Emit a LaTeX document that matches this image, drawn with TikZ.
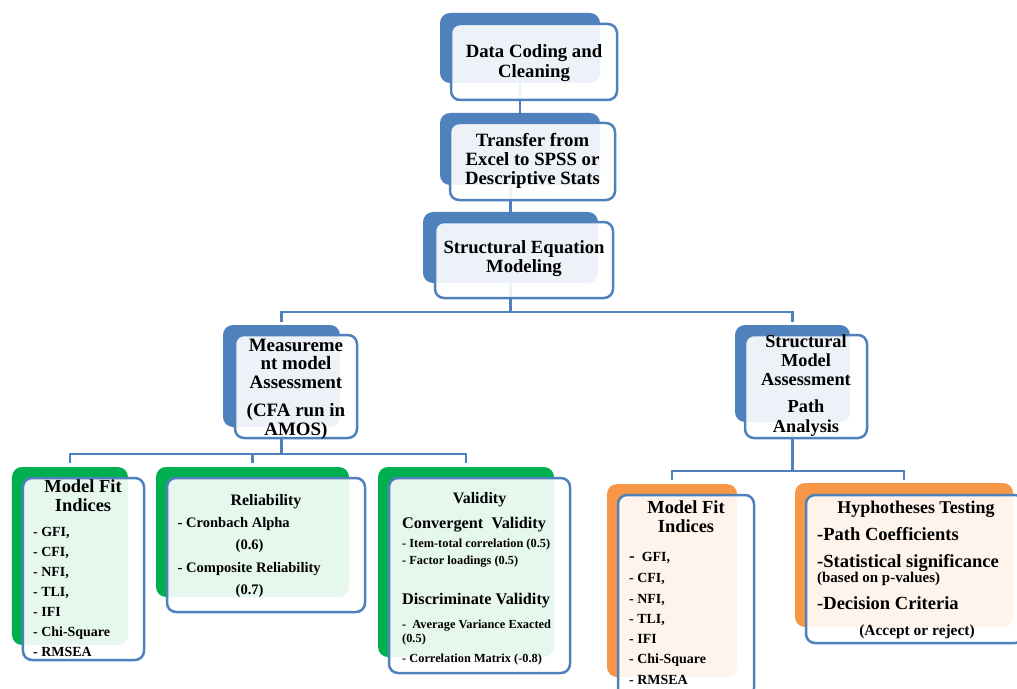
\documentclass[tikz,border=0pt]{standalone}
\usepackage{fontspec}
\setmainfont{Liberation Serif}
\definecolor{accblue}{HTML}{4F81BD}
\definecolor{accgreen}{HTML}{00B050}
\definecolor{accorange}{HTML}{F79646}
\tikzset{
  backbox/.style={draw=none, fill=#1, rounded corners=10bp, inner sep=0pt},
  frontbox/.style={draw=accblue, line width=2.5bp, fill=white, fill opacity=0.9,
                   rounded corners=9bp, inner sep=0pt},
  link/.style={draw=accblue, line width=2.2bp},
  lbl/.style={inner sep=0pt, text=black, font=\bfseries},
}
\newcommand{\fs}[2]{\fontsize{#1}{#2}\selectfont}
\begin{document}
\begin{tikzpicture}[x=1bp,y=-1bp]
\useasboundingbox (0,0) rectangle (1017,689);

% ---------- coloured back panels ----------
\node[backbox=accblue, minimum width=160bp, minimum height=70bp] (b1) at (520,48) {};
\node[backbox=accblue, minimum width=160bp, minimum height=72bp] (b2) at (520,149) {};
\node[backbox=accblue, minimum width=175bp, minimum height=71bp] (b3) at (510.5,247.5) {};
\node[backbox=accblue, minimum width=117bp, minimum height=102bp] (bm) at (281.5,376) {};
\node[backbox=accblue, minimum width=115bp, minimum height=97bp] (bs) at (792.5,373.5) {};
\node[backbox=accgreen, minimum width=116bp, minimum height=178bp] (bfit) at (70,556) {};
\node[backbox=accgreen, minimum width=193bp, minimum height=130bp] (brel) at (252.5,532) {};
\node[backbox=accgreen, minimum width=176bp, minimum height=190bp] (bval) at (466,562) {};
\node[backbox=accorange, minimum width=130bp, minimum height=193bp] (bfit2) at (672,580.5) {};
\node[backbox=accorange, minimum width=218bp, minimum height=144bp] (bhyp) at (904,555) {};

% ---------- connectors ----------
\draw[link] (b1.south) -- (b2.north);
\draw[link] (b2.south -| b3.north) -- (b3.north);
\draw[link] (b3.south) -- ++(0,29) coordinate (j1);
\draw[link, shorten <=3bp, shorten >=3bp] (bm.north) |- (j1) -| (bs.north);
\draw[link] (bm.south) -- ++(0,27) coordinate (j2);
\draw[link, shorten <=4bp] (bfit.north) |- (j2);
\draw[link, shorten <=4bp] (bval.north) |- (j2);
\draw[link, shorten <=4bp] (brel.north) -- (brel.north |- j2);
\draw[link] (bs.south) -- ++(0,48.5) coordinate (j3);
\draw[link, shorten <=4bp, shorten >=3bp] (bfit2.north) |- (j3) -| (bhyp.north);

% ---------- translucent front panels ----------
\node[frontbox, minimum width=166bp, minimum height=76bp] (f1) at (534,62) {};
\node[frontbox, minimum width=165bp, minimum height=77bp] (f2) at (532.5,161.5) {};
\node[frontbox, minimum width=178bp, minimum height=76bp] (f3) at (524,260) {};
\node[frontbox, minimum width=122bp, minimum height=103bp] (fm) at (296,386.5) {};
\node[frontbox, minimum width=122bp, minimum height=103bp] (fs) at (806,386.5) {};
\node[frontbox, minimum width=121bp, minimum height=182bp] (ffit) at (83.5,569) {};
\node[frontbox, minimum width=198bp, minimum height=134bp] (frel) at (266,545) {};
\node[frontbox, minimum width=181bp, minimum height=195bp] (fval) at (479.5,575.5) {};
\node[frontbox, minimum width=136bp, minimum height=202bp] (ffit2) at (686,596) {};
\node[frontbox, minimum width=218bp, minimum height=148bp] (fhyp) at (915,569) {};

% ---------- texts ----------
\node[lbl, anchor=base] (t1) at (534,58)
  {\fs{18.8}{19.5}\begin{tabular}[t]{@{}c@{}}Data Coding and\\Cleaning\end{tabular}};
\node[lbl, anchor=base] (t2) at (532.5,147)
  {\fs{18.8}{19}\begin{tabular}[t]{@{}c@{}}Transfer from\\Excel to SPSS or\\Descriptive Stats\end{tabular}};
\node[lbl, anchor=base] (t3) at (524,253)
  {\fs{18.7}{20}\begin{tabular}[t]{@{}c@{}}Structural Equation\\Modeling\end{tabular}};
\node[lbl, anchor=base] (tm) at (296,351)
  {\fs{19}{18.5}\begin{tabular}[t]{@{}c@{}}Measureme\\nt model\\Assessment\\[10bp](CFA run in\\AMOS)\end{tabular}};
\node[lbl, anchor=base] (ts) at (806,347)
  {\fs{18.4}{19.5}\begin{tabular}[t]{@{}c@{}}Structural\\Model\\Assessment\\[7.5bp]Path\\Analysis\end{tabular}};

% left fit indices
\node[lbl, anchor=base] (tfith) at (83,492)
  {\fs{18.5}{20}\begin{tabular}[t]{@{}c@{}}Model Fit\\Indices\end{tabular}};
\node[lbl, anchor=base west] (tfitl) at (33,536)
  {\fs{14}{20.2}\begin{tabular}[t]{@{}l@{}}- GFI,\\- CFI,\\- NFI,\\- TLI,\\- IFI\\- Chi-Square\\- RMSEA\end{tabular}};

% reliability
\node[lbl, anchor=base] (trelh) at (266,505) {\fs{16}{18}Reliability};
\node[lbl, anchor=base west] (trell) at (177.5,527)
  {\fs{14.6}{22.7}\begin{tabular}[t]{@{}l@{}}- Cronbach Alpha\\\hspace*{58bp}(0.6)\\- Composite Reliability\\\hspace*{58bp}(0.7)\end{tabular}};

% validity
\node[lbl, anchor=base] (tvalh) at (479.5,503) {\fs{16}{18}Validity};
\node[lbl, anchor=base west] (tconv) at (402,528) {\fs{16.3}{18}Convergent\ \ Validity};
\node[lbl, anchor=base west] (tconvl) at (402,547)
  {\fs{12.4}{18}\begin{tabular}[t]{@{}l@{}}- Item-total correlation (0.5)\\- Factor loadings (0.5)\end{tabular}};
\node[lbl, anchor=base west] (tdisc) at (402,604) {\fs{16.3}{18}Discriminate Validity};
\node[lbl, anchor=base west] (tdiscl) at (402,628)
  {\fs{12.4}{14.5}\begin{tabular}[t]{@{}l@{}}-\ \ Average Variance Exacted\\(0.5)\\[5.5bp]- Correlation Matrix (-0.8)\end{tabular}};

% right fit indices
\node[lbl, anchor=base] (tfit2h) at (686,513)
  {\fs{18.5}{20}\begin{tabular}[t]{@{}c@{}}Model Fit\\Indices\end{tabular}};
\node[lbl, anchor=base west] (tfit2l) at (629,561)
  {\fs{14}{20.3}\begin{tabular}[t]{@{}l@{}}{\fs{17}{20}-}\ \ GFI,\\[1.7bp]- CFI,\\- NFI,\\- TLI,\\- IFI\\- Chi-Square\\- RMSEA\end{tabular}};

% hypotheses testing
\node[lbl, anchor=base] (thyph) at (916,513) {\fs{18}{20}Hyphotheses Testing};
\node[lbl, anchor=base west] (thyp1) at (817,540) {\fs{18.6}{20}-Path Coefficients};
\node[lbl, anchor=base west] (thyp2) at (817,567)
  {\fs{18.6}{16}\begin{tabular}[t]{@{}l@{}}-Statistical significance\\{\fs{15}{16}(based on p-values)}\end{tabular}};
\node[lbl, anchor=base west] (thyp3) at (817,609) {\fs{18.6}{20}-Decision Criteria};
\node[lbl, anchor=base] (thyp4) at (917,635) {\fs{15.5}{18}(Accept or reject)};
\end{tikzpicture}
\end{document}
